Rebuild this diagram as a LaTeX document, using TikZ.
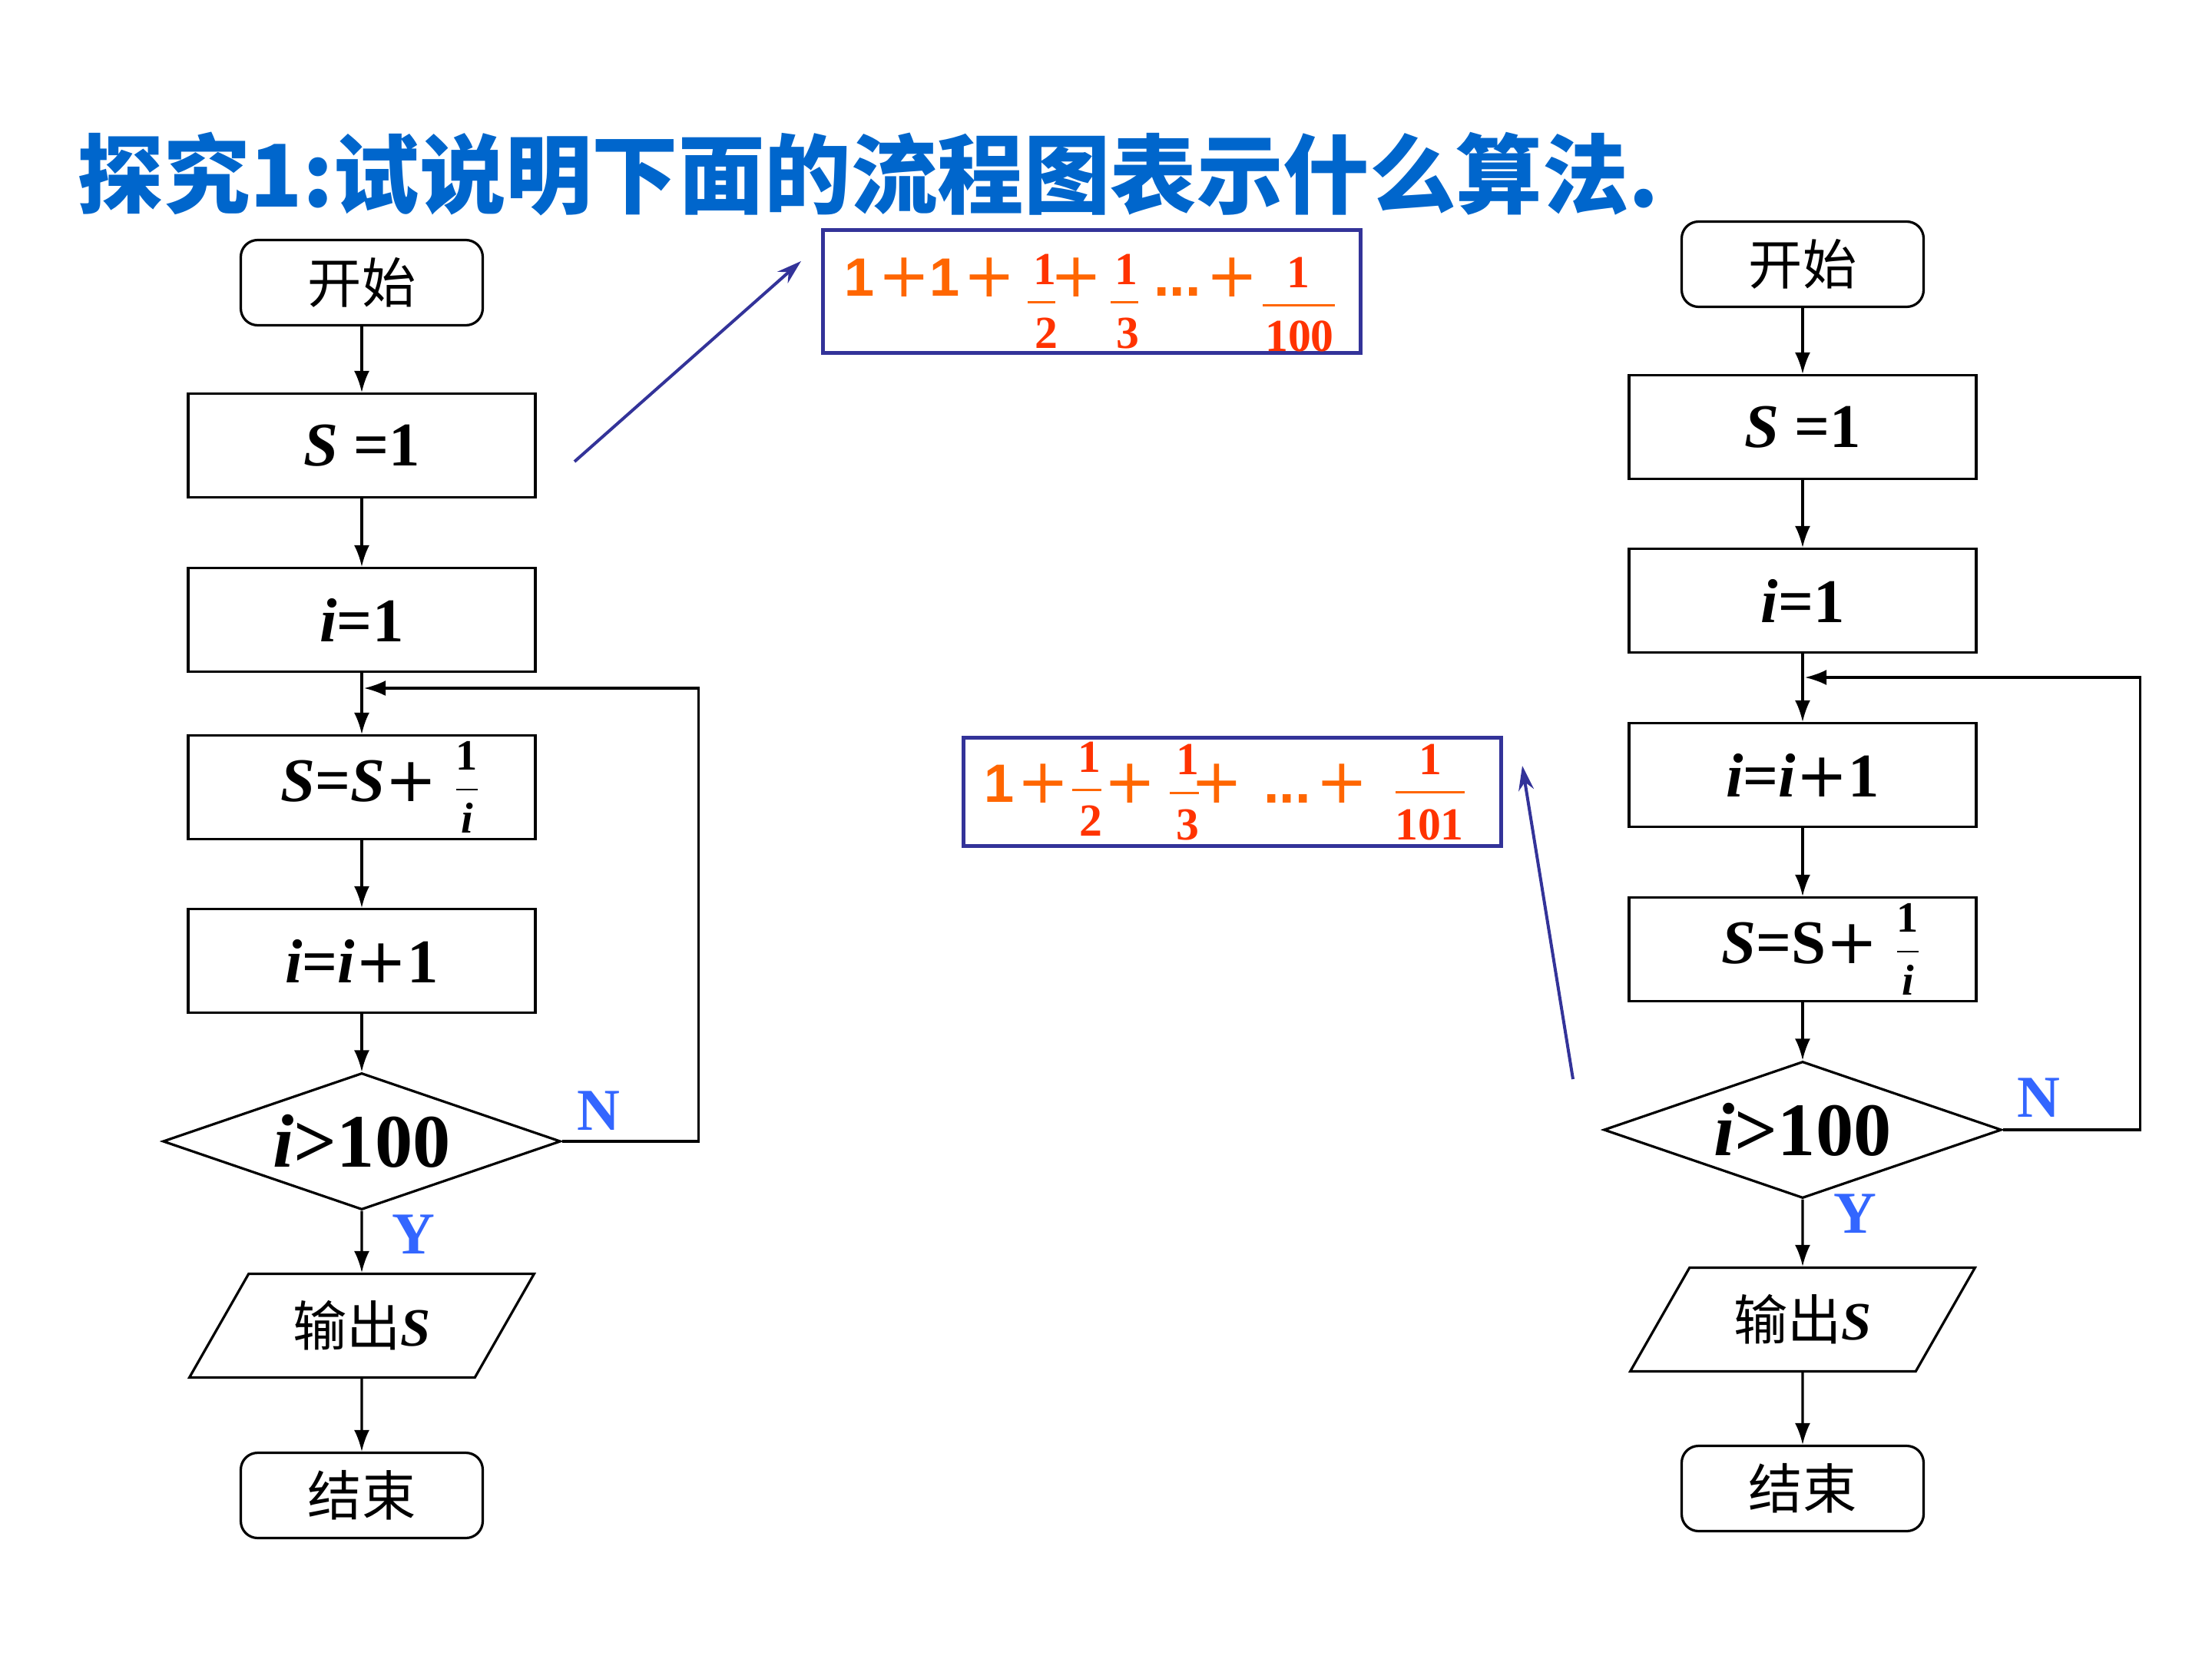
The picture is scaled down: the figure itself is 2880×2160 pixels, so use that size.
\documentclass[tikz,border=0pt]{standalone}
\usepackage{fontspec}
\usepackage{amsmath}
\setmainfont{Liberation Serif}
\newfontfamily\cjk{Noto Sans CJK SC}
\newfontfamily\arialf{Liberation Sans}
\newfontfamily\dejav{DejaVu Sans}
\usetikzlibrary{shapes.geometric,arrows.meta}
\definecolor{ttl}{RGB}{0,102,204}
\definecolor{frm}{RGB}{51,51,153}
\definecolor{org}{RGB}{255,102,0}
\definecolor{rd}{RGB}{255,51,0}
\definecolor{lbl}{RGB}{51,102,255}
\newcommand{\bi}[1]{\textbf{\textit{#1}}}
\newcommand{\pl}{{\dejav +}}
\newcommand{\fri}{{\fontsize{16pt}{16pt}\selectfont$\genfrac{}{}{0.5pt}{0}{\text{\bfseries 1}}{\text{\bfseries\itshape i}}$}}
\begin{document}
\begin{tikzpicture}[x=0.1mm,y=-0.1mm,
  lw/.style={line width=0.32mm},
  proc/.style={draw, lw, rectangle, minimum width=45.2mm, minimum height=13.5mm, inner sep=0pt, font=\fontsize{23pt}{27pt}\selectfont},
  term/.style={draw, lw, rounded corners=2.2mm, minimum width=31.5mm, minimum height=11.1mm, inner sep=0pt, font=\cjk\fontsize{20pt}{24pt}\selectfont},
  dec/.style={draw, lw, diamond, aspect=2.93, minimum width=51.8mm, minimum height=17.8mm, inner sep=0pt, font=\fontsize{28pt}{32pt}\selectfont},
  io/.style={draw, lw, trapezium, trapezium left angle=54, trapezium right angle=126, trapezium stretches=true, minimum width=45mm, minimum height=13.5mm, inner sep=0pt, font=\fontsize{20pt}{24pt}\selectfont},
  flow/.style={draw, lw, -{Latex[length=2.8mm,width=2mm]}},
  lab/.style={text=lbl, inner sep=0pt, font=\bfseries\fontsize{22pt}{26pt}\selectfont},
  fbox/.style={draw=frm, line width=0.5mm, minimum width=70mm, inner sep=0pt},
  ptr/.style={draw=frm, line width=0.4mm, -{Stealth[length=3.2mm,width=2mm]}},
  og/.style={text=org, inner sep=0pt, font=\arialf\bfseries\fontsize{20pt}{24pt}\selectfont},
  opl/.style={text=org, inner sep=0pt, font=\dejav\fontsize{23pt}{27pt}\selectfont},
  odots/.style={text=org, inner sep=0pt, anchor=south, font=\arialf\bfseries\fontsize{21pt}{24pt}\selectfont},
  rdn/.style={text=rd, inner sep=0pt, font=\bfseries\fontsize{17pt}{20pt}\selectfont},
  fbar/.style={draw=org, line width=0.3mm},
]
\fill[white] (0,0) rectangle (2880,2160);
\useasboundingbox (0,0) rectangle (2880,2160);

% title
\node[anchor=west, inner sep=0pt, text=ttl, font=\cjk\bfseries\fontsize{32pt}{36pt}\selectfont] (title) at (100,227) {探究1:试说明下面的流程图表示什么算法.};

% left flowchart
\node[term] (st1) at (471,368) {开始};
\node[proc] (s1) at (471,580) {\bi{S} \textbf{=1}};
\node[proc] (i1) at (471,807) {\bi{i}\textbf{=1}};
\node[proc] (ss1) at (471,1025) {\hspace*{5mm}\bi{S}\textbf{=}\bi{S}\pl\ \fri};
\node[proc] (ii1) at (471,1251) {\bi{i}\textbf{=}\bi{i}\pl\textbf{1}};
\node[dec] (d1) at (471,1486) {\bi{i}\textbf{>100}};
\node[io] (o1) at (471,1726) {{\cjk 输出}\bi{S}};
\node[term] (e1) at (471,1947) {结束};
\coordinate (lp1) at (474,896);
\draw[flow] (st1) -- (s1);
\draw[flow] (s1) -- (i1);
\draw[flow] (i1) -- (ss1);
\draw[flow] (ss1) -- (ii1);
\draw[flow] (ii1) -- (d1);
\draw[flow] (d1) -- (o1);
\draw[flow] (o1) -- (e1);
\draw[flow] (d1.east) -- ++(178,0) |- (lp1);
\node[lab] (n1) at (779,1446) {N};
\node[lab] (y1) at (538,1607) {Y};

% right flowchart
\node[term] (st2) at (2347,344) {开始};
\node[proc] (s2) at (2347,556) {\bi{S} \textbf{=1}};
\node[proc] (i2) at (2347,782) {\bi{i}\textbf{=1}};
\node[proc] (ii2) at (2347,1009) {\bi{i}\textbf{=}\bi{i}\pl\textbf{1}};
\node[proc] (ss2) at (2347,1236) {\hspace*{5mm}\bi{S}\textbf{=S}\pl\ \fri};
\node[dec] (d2) at (2347,1471) {\bi{i}\textbf{>100}};
\node[io] (o2) at (2347,1718) {{\cjk 输出}\bi{S}};
\node[term] (e2) at (2347,1938) {结束};
\coordinate (lp2) at (2350,882);
\draw[flow] (st2) -- (s2);
\draw[flow] (s2) -- (i2);
\draw[flow] (i2) -- (ii2);
\draw[flow] (ii2) -- (ss2);
\draw[flow] (ss2) -- (d2);
\draw[flow] (d2) -- (o2);
\draw[flow] (o2) -- (e2);
\draw[flow] (d2.east) -- ++(179,0) |- (lp2);
\node[lab] (n2) at (2654,1429) {N};
\node[lab] (y2) at (2415,1580) {Y};

% formula box 1
\node[fbox, minimum height=16mm] (f1) at (1421,379) {};
\node[og] (f1a) at (1119,361) {1};
\node[opl] (f1b) at (1177,361) {+};
\node[og] (f1c) at (1230,361) {1};
\node[opl] (f1d) at (1288,361) {+};
\node[rdn] (f1e) at (1360,351) {1};
\draw[fbar] (1338,393) -- (1374,393);
\node[rdn] (f1f) at (1362,434) {2};
\node[opl] (f1g) at (1401,361) {+};
\node[rdn] (f1h) at (1466,351) {1};
\draw[fbar] (1446,393) -- (1482,393);
\node[rdn] (f1i) at (1468,434) {3};
\node[odots] (f1j) at (1533,386) {...};
\node[opl] (f1k) at (1604,361) {+};
\node[rdn] (f1l) at (1690,355) {1};
\draw[fbar] (1644,397) -- (1738,397);
\node[rdn] (f1m) at (1692,438) {100};

% formula box 2
\node[fbox, minimum height=14.1mm] (f2) at (1604,1031) {};
\node[og] (f2a) at (1301,1020) {1};
\node[opl] (f2b) at (1358,1020) {+};
\node[rdn] (f2c) at (1418,986) {1};
\draw[fbar] (1396,1028) -- (1434,1028);
\node[rdn] (f2d) at (1420,1069) {2};
\node[opl] (f2e) at (1471,1020) {+};
\node[rdn] (f2f) at (1546,989) {1};
\draw[fbar] (1523,1032) -- (1561,1032);
\node[rdn] (f2g) at (1546,1074) {3};
\node[opl] (f2h) at (1584,1020) {+};
\node[odots] (f2i) at (1676,1046) {...};
\node[opl] (f2j) at (1747,1020) {+};
\node[rdn] (f2k) at (1862,989) {1};
\draw[fbar] (1817,1031) -- (1907,1031);
\node[rdn] (f2l) at (1861,1074) {101};

% pointer arrows
\coordinate (p1s) at (748,601);
\coordinate (p1e) at (1043,340);
\draw[ptr] (p1s) -- (p1e);
\coordinate (p2s) at (2048,1405);
\coordinate (p2e) at (1982,997);
\draw[ptr] (p2s) -- (p2e);
\end{tikzpicture}
\end{document}
